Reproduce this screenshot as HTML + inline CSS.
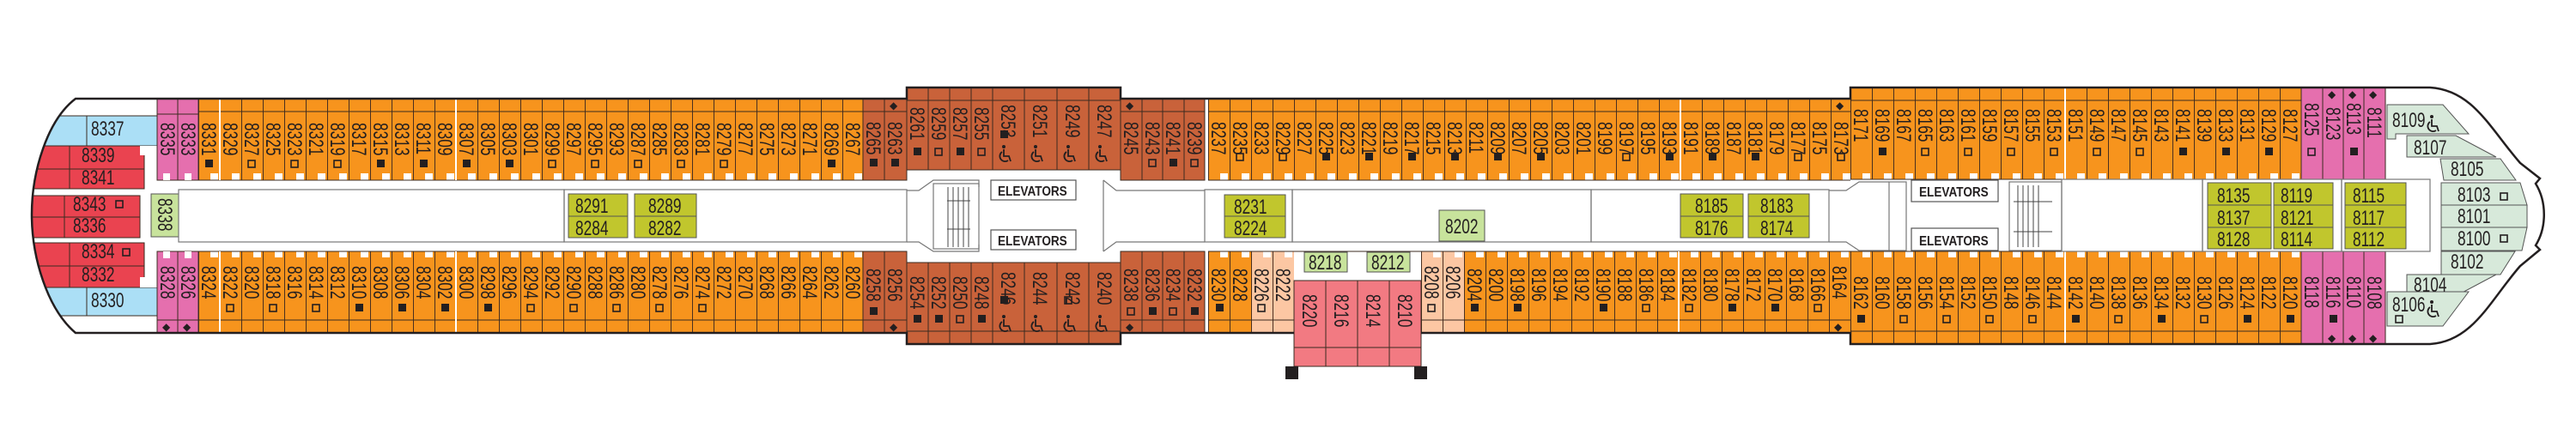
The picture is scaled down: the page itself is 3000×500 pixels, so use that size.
<!DOCTYPE html>
<html><head><meta charset="utf-8"><style>
html,body{margin:0;padding:0;background:#fff}
svg{display:block}
text{font-family:"Liberation Sans",sans-serif;fill:#231f20}
.v{font-size:24px}
.h{font-size:24px}
.e{font-size:16px;font-weight:bold}
.d{font-size:12px}
.f{fill:#231f20}
.o{fill:none;stroke:#231f20;stroke-width:1.6}
.c{stroke:#3b2b20;stroke-width:1}
.wc{fill:none;stroke:#231f20;stroke-width:1.8}
</style></head><body>
<svg width="3000" height="500" viewBox="0 0 3000 500" xmlns="http://www.w3.org/2000/svg">
<defs>
<pattern id="pA" x="231" y="0" width="25" height="500" patternUnits="userSpaceOnUse"><line x1=".5" y1="0" x2=".5" y2="500" stroke="#4a3020" stroke-width="1"/><rect x="14" y="202" width="9" height="8" fill="#fff"/><rect x="14" y="293" width="9" height="7" fill="#fff"/></pattern>
<pattern id="pB" x="1407" y="0" width="25" height="500" patternUnits="userSpaceOnUse"><line x1=".5" y1="0" x2=".5" y2="500" stroke="#4a3020" stroke-width="1"/><rect x="14" y="202" width="9" height="8" fill="#fff"/><rect x="14" y="293" width="9" height="7" fill="#fff"/></pattern>
<pattern id="pC" x="2155" y="0" width="25" height="500" patternUnits="userSpaceOnUse"><line x1=".5" y1="0" x2=".5" y2="500" stroke="#4a3020" stroke-width="1"/><rect x="14" y="202" width="9" height="8" fill="#fff"/><rect x="14" y="293" width="9" height="7" fill="#fff"/></pattern>
<clipPath id="hull"><path d="M88 115 L2830 102 L2830 401 L88 388 C55 360 37 300 37 250 C37 200 55 140 88 115 Z"/></clipPath>
<g id="wch"><circle cx="4" cy="-14" r="2" fill="#231f20"/><path d="M4 -11 L4 -3 L10 -3 L12 3 M2 -8 A6 6 0 1 0 9 2" class="wc"/></g>
</defs>

<!-- stern -->
<g clip-path="url(#hull)">
<rect x="20" y="135" width="163" height="35" fill="#abdff6"/>
<rect x="20" y="335" width="163" height="33" fill="#abdff6"/>
<rect x="20" y="170" width="148" height="50" fill="#ea4350"/>
<rect x="20" y="228" width="143" height="49" fill="#ea4350"/>
<rect x="20" y="283" width="148" height="52" fill="#ea4350"/>
<g fill="none" stroke="#3b2b20" stroke-width="1">
<rect x="20" y="135" width="163" height="35"/><rect x="20" y="335" width="163" height="33"/>
<rect x="20" y="170" width="148" height="27"/><rect x="20" y="197" width="148" height="23"/>
<rect x="20" y="228" width="143" height="25"/><rect x="20" y="253" width="143" height="24"/>
<rect x="20" y="283" width="148" height="27"/><rect x="20" y="310" width="148" height="25"/>
<line x1="101" y1="135" x2="101" y2="170"/><line x1="101" y1="335" x2="101" y2="368"/>
<line x1="81" y1="170" x2="81" y2="220"/><line x1="75" y1="228" x2="75" y2="277"/><line x1="81" y1="283" x2="81" y2="335"/>
</g>
</g>
<rect x="163" y="170" width="20" height="11" fill="#fff"/><rect x="163" y="323" width="20" height="12" fill="#fff"/>
<text class="h" transform="translate(106,158) scale(.72,1)">8337</text>
<text class="h" transform="translate(95,189) scale(.72,1)">8339</text>
<text class="h" transform="translate(95,215) scale(.72,1)">8341</text>
<text class="h" transform="translate(85,246) scale(.72,1)">8343</text>
<text class="h" transform="translate(85,271) scale(.72,1)">8336</text>
<text class="h" transform="translate(95,301) scale(.72,1)">8334</text>
<text class="h" transform="translate(95,328) scale(.72,1)">8332</text>
<text class="h" transform="translate(106,358) scale(.72,1)">8330</text>
<rect x="135" y="234" width="8" height="8" class="o"/><rect x="143" y="290" width="8" height="8" class="o"/>
<rect x="176" y="226" width="32" height="50" fill="#c8e39c" stroke="#555" stroke-width="1"/>
<text class="v" transform="translate(184,231) rotate(90) scale(.72,1)">8338</text>

<!-- pink stern -->
<rect x="183" y="115" width="48" height="95" fill="#e56fae" stroke="#3b2b20"/>
<rect x="183" y="293" width="48" height="95" fill="#e56fae" stroke="#3b2b20"/>
<g class="c"><line x1="207" y1="115" x2="207" y2="210"/><line x1="207" y1="293" x2="207" y2="388"/><line x1="183" y1="133" x2="231" y2="133"/><line x1="183" y1="373" x2="231" y2="373"/></g>
<rect x="190" y="202" width="8" height="8" fill="#fff"/><rect x="215" y="202" width="8" height="8" fill="#fff"/>
<rect x="190" y="293" width="8" height="8" fill="#fff"/><rect x="215" y="293" width="8" height="8" fill="#fff"/>
<text class="d" x="189" y="385">◆</text><text class="d" x="213" y="385">◆</text>
<text class="v" transform="translate(187,143) rotate(90) scale(.72,1)">8335</text>
<text class="v" transform="translate(211,143) rotate(90) scale(.72,1)">8333</text>
<text class="v" transform="translate(187,310) rotate(90) scale(.72,1)">8328</text>
<text class="v" transform="translate(211,310) rotate(90) scale(.72,1)">8326</text>

<!-- orange rows -->
<rect x="231" y="115" width="774" height="95" fill="#f7941d"/><rect x="231" y="115" width="774" height="95" fill="url(#pA)"/>
<rect x="231" y="293" width="774" height="95" fill="#f7941d"/><rect x="231" y="293" width="774" height="95" fill="url(#pA)"/>
<rect x="1407" y="115" width="748" height="95" fill="#f7941d"/><rect x="1407" y="115" width="748" height="95" fill="url(#pB)"/>
<rect x="1407" y="293" width="50" height="95" fill="#f7941d"/><rect x="1457" y="293" width="50" height="95" fill="#fcc7a3"/><rect x="1407" y="293" width="100" height="95" fill="url(#pB)"/>
<rect x="1655" y="293" width="50" height="95" fill="#fcc7a3"/><rect x="1705" y="293" width="450" height="95" fill="#f7941d"/><rect x="1655" y="293" width="500" height="95" fill="url(#pC)"/>
<rect x="2155" y="102" width="525" height="107" fill="#f7941d"/><rect x="2155" y="102" width="525" height="107" fill="url(#pC)"/>
<rect x="2155" y="293" width="525" height="108" fill="#f7941d"/><rect x="2155" y="293" width="525" height="108" fill="url(#pC)"/>
<g class="c"><line x1="231" y1="130" x2="1005" y2="130"/><line x1="231" y1="373" x2="1005" y2="373"/>
<line x1="1407" y1="130" x2="2155" y2="130"/><line x1="1407" y1="373" x2="1507" y2="373"/><line x1="1655" y1="373" x2="2155" y2="373"/>
<line x1="2155" y1="117" x2="2778" y2="117"/><line x1="2155" y1="386" x2="2778" y2="386"/>
<line x1="231" y1="210" x2="1005" y2="210"/><line x1="231" y1="293" x2="1005" y2="293"/>
<line x1="1407" y1="210" x2="2155" y2="210"/><line x1="2155" y1="209" x2="2680" y2="209"/>
<line x1="1407" y1="293" x2="2680" y2="293"/></g>
<g stroke="#fff" stroke-width="2"><line x1="256" y1="115" x2="256" y2="210"/><line x1="256" y1="293" x2="256" y2="388"/><line x1="531" y1="115" x2="531" y2="210"/><line x1="531" y1="293" x2="531" y2="388"/><line x1="1405" y1="110" x2="1405" y2="390"/><line x1="1957" y1="115" x2="1957" y2="210"/><line x1="1955" y1="293" x2="1955" y2="388"/><line x1="2405" y1="102" x2="2405" y2="209"/><line x1="2405" y1="293" x2="2405" y2="401"/></g>

<!-- brown -->
<g fill="#c9623a" stroke="#3b2b20" stroke-width="1">
<rect x="1005" y="115" width="51" height="95"/><rect x="1056" y="102" width="249" height="96"/><rect x="1305" y="115" width="98" height="95"/>
<rect x="1005" y="293" width="51" height="95"/><rect x="1056" y="306" width="249" height="95"/><rect x="1305" y="293" width="98" height="95"/>
</g>
<g class="c">
<line x1="1030" y1="115" x2="1030" y2="210"/><line x1="1081" y1="102" x2="1081" y2="198"/><line x1="1106" y1="102" x2="1106" y2="198"/><line x1="1131" y1="102" x2="1131" y2="198"/><line x1="1156" y1="102" x2="1156" y2="198"/><line x1="1193" y1="102" x2="1193" y2="198"/><line x1="1231" y1="102" x2="1231" y2="198"/><line x1="1268" y1="102" x2="1268" y2="198"/><line x1="1330" y1="115" x2="1330" y2="210"/><line x1="1354" y1="115" x2="1354" y2="210"/><line x1="1379" y1="115" x2="1379" y2="210"/>
<line x1="1030" y1="293" x2="1030" y2="388"/><line x1="1081" y1="306" x2="1081" y2="401"/><line x1="1106" y1="306" x2="1106" y2="401"/><line x1="1131" y1="306" x2="1131" y2="401"/><line x1="1156" y1="306" x2="1156" y2="401"/><line x1="1193" y1="306" x2="1193" y2="401"/><line x1="1231" y1="306" x2="1231" y2="401"/><line x1="1268" y1="306" x2="1268" y2="401"/><line x1="1330" y1="293" x2="1330" y2="388"/><line x1="1354" y1="293" x2="1354" y2="388"/><line x1="1379" y1="293" x2="1379" y2="388"/>
<line x1="1005" y1="130" x2="1056" y2="130"/><line x1="1056" y1="117" x2="1305" y2="117"/><line x1="1305" y1="130" x2="1403" y2="130"/>
<line x1="1005" y1="373" x2="1056" y2="373"/><line x1="1056" y1="386" x2="1305" y2="386"/><line x1="1305" y1="373" x2="1403" y2="373"/>
</g>
<text class="d" x="1036" y="127">◆</text><text class="d" x="1311" y="127">◆</text><text class="d" x="1036" y="385">◆</text><text class="d" x="1311" y="385">◆</text>

<!-- pink salmon block -->
<rect x="1507" y="327" width="148" height="100" fill="#f27a82" stroke="#3b2b20"/>
<g class="c"><line x1="1544" y1="327" x2="1544" y2="427"/><line x1="1581" y1="327" x2="1581" y2="427"/><line x1="1618" y1="327" x2="1618" y2="427"/><line x1="1507" y1="405" x2="1655" y2="405"/></g>
<rect x="1497" y="427" width="15" height="15" fill="#231f20"/><rect x="1647" y="427" width="15" height="15" fill="#231f20"/>
<rect x="1519" y="294" width="50" height="23" fill="#c8e39c" stroke="#555"/><rect x="1592" y="294" width="50" height="23" fill="#c8e39c" stroke="#555"/>
<text class="h" transform="translate(1524,314) scale(.72,1)">8218</text>
<text class="h" transform="translate(1597,314) scale(.72,1)">8212</text>
<text class="v" transform="translate(1517,343) rotate(90) scale(.72,1)">8220</text>
<text class="v" transform="translate(1554,343) rotate(90) scale(.72,1)">8216</text>
<text class="v" transform="translate(1591,343) rotate(90) scale(.72,1)">8214</text>
<text class="v" transform="translate(1628,343) rotate(90) scale(.72,1)">8210</text>

<!-- right pink -->
<rect x="2680" y="102" width="98" height="107" fill="#e56fae" stroke="#3b2b20"/>
<rect x="2680" y="293" width="98" height="108" fill="#e56fae" stroke="#3b2b20"/>
<g class="c"><line x1="2705" y1="102" x2="2705" y2="209"/><line x1="2729" y1="102" x2="2729" y2="209"/><line x1="2753" y1="102" x2="2753" y2="209"/><line x1="2705" y1="293" x2="2705" y2="401"/><line x1="2729" y1="293" x2="2729" y2="401"/><line x1="2753" y1="293" x2="2753" y2="401"/></g>
<text class="d" x="2711" y="114">◆</text><text class="d" x="2735" y="114">◆</text><text class="d" x="2759" y="114">◆</text>
<text class="d" x="2711" y="398">◆</text><text class="d" x="2735" y="398">◆</text><text class="d" x="2759" y="398">◆</text>
<text class="d" x="2138" y="127">◆</text><text class="d" x="2136" y="385">◆</text>

<!-- bow cabins -->
<g fill="#d7e9da" stroke="#555" stroke-width="1">
<polygon points="2780,122 2845,122 2875,156 2790,156 2790,162 2780,162"/>
<polygon points="2803,158 2860,158 2907,183 2803,183"/>
<polygon points="2842,185 2912,185 2930,210 2846,210"/>
<polygon points="2843,213 2935,213 2943,239 2843,239"/>
<polygon points="2843,239 2943,239 2943,265 2843,265"/>
<polygon points="2843,265 2943,265 2937,292 2843,292"/>
<polygon points="2843,293 2929,293 2912,320 2843,320"/>
<polygon points="2803,320 2907,320 2860,345 2803,345"/>
<polygon points="2780,340 2875,340 2845,380 2780,380"/>
</g>
<text class="h" transform="translate(2786,148) scale(.72,1)">8109</text>
<text class="h" transform="translate(2811,180) scale(.72,1)">8107</text>
<text class="h" transform="translate(2854,205) scale(.72,1)">8105</text>
<text class="h" transform="translate(2862,235) scale(.72,1)">8103</text>
<text class="h" transform="translate(2862,260) scale(.72,1)">8101</text>
<text class="h" transform="translate(2862,286) scale(.72,1)">8100</text>
<text class="h" transform="translate(2854,313) scale(.72,1)">8102</text>
<text class="h" transform="translate(2811,340) scale(.72,1)">8104</text>
<text class="h" transform="translate(2786,363) scale(.72,1)">8106</text>
<rect x="2912" y="225" width="8" height="8" class="o"/><rect x="2912" y="274" width="8" height="8" class="o"/><rect x="2790" y="368" width="8" height="8" class="o"/>
<use href="#wch" x="2828" y="150"/><use href="#wch" x="2828" y="366"/>

<!-- corridor structures -->
<g fill="none" stroke="#777" stroke-width="1.2">
<rect x="208" y="221" width="449" height="61"/>
<rect x="657" y="221" width="399" height="61"/>
<path d="M1056 222 L1070 222 L1087 210 L1140 210 L1140 218 M1056 282 L1070 282 L1087 293 L1140 293 L1140 285"/>
<rect x="1087" y="214" width="53" height="76"/>
<path d="M1285 210 L1300 222 L1403 222 M1285 293 L1300 282 L1403 282 M1285 210 L1285 293"/>
<rect x="1403" y="221" width="102" height="61"/>
<rect x="1505" y="221" width="348" height="61"/>
<rect x="1853" y="221" width="277" height="61"/>
<path d="M2130 222 L2150 222 L2165 212 L2200 212 M2130 282 L2150 282 L2165 292 L2200 292"/>
<rect x="2200" y="212" width="20" height="80"/>
<rect x="2340" y="212" width="61" height="80"/>
<rect x="2401" y="209" width="164" height="84"/>
<rect x="2565" y="209" width="162" height="84"/>
<rect x="2727" y="209" width="103" height="84"/>
</g>
<g stroke="#444" stroke-width="1"><line x1="1104" y1="218" x2="1104" y2="288"/><line x1="1110" y1="218" x2="1110" y2="288"/><line x1="1116" y1="218" x2="1116" y2="288"/><line x1="1122" y1="218" x2="1122" y2="288"/><line x1="1128" y1="218" x2="1128" y2="288"/><line x1="1103" y1="234" x2="1130" y2="234"/><line x1="1103" y1="267" x2="1130" y2="267"/>
<line x1="2350" y1="216" x2="2350" y2="288"/><line x1="2356" y1="216" x2="2356" y2="288"/><line x1="2362" y1="216" x2="2362" y2="288"/><line x1="2368" y1="216" x2="2368" y2="288"/><line x1="2374" y1="216" x2="2374" y2="288"/><line x1="2345" y1="235" x2="2390" y2="235"/><line x1="2345" y1="270" x2="2390" y2="270"/></g>
<g fill="#fff" stroke="#555" stroke-width="1.2">
<rect x="1154" y="210" width="99" height="23"/><rect x="1154" y="268" width="99" height="23"/>
<rect x="2226" y="210" width="101" height="25"/><rect x="2226" y="266" width="101" height="26"/>
</g>
<text class="e" transform="translate(1162,228) scale(.85,1)">ELEVATORS</text>
<text class="e" transform="translate(1162,286) scale(.85,1)">ELEVATORS</text>
<text class="e" transform="translate(2235,229) scale(.85,1)">ELEVATORS</text>
<text class="e" transform="translate(2235,286) scale(.85,1)">ELEVATORS</text>

<!-- interior cabins -->
<g fill="#c1c62d" stroke="#555" stroke-width="1">
<rect x="662" y="226" width="69" height="26"/><rect x="662" y="252" width="69" height="25"/><rect x="739" y="226" width="72" height="26"/><rect x="739" y="252" width="72" height="25"/>
<rect x="1426" y="227" width="71" height="25"/><rect x="1426" y="252" width="71" height="25"/>
<rect x="1957" y="226" width="73" height="26"/><rect x="1957" y="252" width="73" height="25"/><rect x="2036" y="226" width="71" height="26"/><rect x="2036" y="252" width="71" height="25"/>
<rect x="2571" y="213" width="74" height="26"/><rect x="2571" y="239" width="74" height="26"/><rect x="2571" y="265" width="74" height="25"/>
<rect x="2648" y="213" width="69" height="26"/><rect x="2648" y="239" width="69" height="26"/><rect x="2648" y="265" width="69" height="25"/>
<rect x="2731" y="213" width="71" height="26"/><rect x="2731" y="239" width="71" height="26"/><rect x="2731" y="265" width="71" height="25"/>
</g>
<rect x="1676" y="245" width="53" height="36" fill="#c8e39c" stroke="#555"/>
<text class="h" transform="translate(1683,272) scale(.72,1)">8202</text>
<text class="h" transform="translate(670,248) scale(.72,1)">8291</text>
<text class="h" transform="translate(670,274) scale(.72,1)">8284</text>
<text class="h" transform="translate(755,248) scale(.72,1)">8289</text>
<text class="h" transform="translate(755,274) scale(.72,1)">8282</text>
<text class="h" transform="translate(1437,249) scale(.72,1)">8231</text>
<text class="h" transform="translate(1437,274) scale(.72,1)">8224</text>
<text class="h" transform="translate(1974,248) scale(.72,1)">8185</text>
<text class="h" transform="translate(1974,274) scale(.72,1)">8176</text>
<text class="h" transform="translate(2050,248) scale(.72,1)">8183</text>
<text class="h" transform="translate(2050,274) scale(.72,1)">8174</text>
<text class="h" transform="translate(2582,236) scale(.72,1)">8135</text>
<text class="h" transform="translate(2582,262) scale(.72,1)">8137</text>
<text class="h" transform="translate(2582,287) scale(.72,1)">8128</text>
<text class="h" transform="translate(2656,236) scale(.72,1)">8119</text>
<text class="h" transform="translate(2656,262) scale(.72,1)">8121</text>
<text class="h" transform="translate(2656,287) scale(.72,1)">8114</text>
<text class="h" transform="translate(2740,236) scale(.72,1)">8115</text>
<text class="h" transform="translate(2740,262) scale(.72,1)">8117</text>
<text class="h" transform="translate(2740,287) scale(.72,1)">8112</text>

<g class="v">
<text transform="translate(235,143) rotate(90) scale(.72,1)">8331</text>
<text transform="translate(260,143) rotate(90) scale(.72,1)">8329</text>
<text transform="translate(285,143) rotate(90) scale(.72,1)">8327</text>
<text transform="translate(310,143) rotate(90) scale(.72,1)">8325</text>
<text transform="translate(335,143) rotate(90) scale(.72,1)">8323</text>
<text transform="translate(360,143) rotate(90) scale(.72,1)">8321</text>
<text transform="translate(385,143) rotate(90) scale(.72,1)">8319</text>
<text transform="translate(410,143) rotate(90) scale(.72,1)">8317</text>
<text transform="translate(435,143) rotate(90) scale(.72,1)">8315</text>
<text transform="translate(460,143) rotate(90) scale(.72,1)">8313</text>
<text transform="translate(485,143) rotate(90) scale(.72,1)">8311</text>
<text transform="translate(510,143) rotate(90) scale(.72,1)">8309</text>
<text transform="translate(535,143) rotate(90) scale(.72,1)">8307</text>
<text transform="translate(560,143) rotate(90) scale(.72,1)">8305</text>
<text transform="translate(585,143) rotate(90) scale(.72,1)">8303</text>
<text transform="translate(610,143) rotate(90) scale(.72,1)">8301</text>
<text transform="translate(635,143) rotate(90) scale(.72,1)">8299</text>
<text transform="translate(660,143) rotate(90) scale(.72,1)">8297</text>
<text transform="translate(685,143) rotate(90) scale(.72,1)">8295</text>
<text transform="translate(710,143) rotate(90) scale(.72,1)">8293</text>
<text transform="translate(735,143) rotate(90) scale(.72,1)">8287</text>
<text transform="translate(760,143) rotate(90) scale(.72,1)">8285</text>
<text transform="translate(785,143) rotate(90) scale(.72,1)">8283</text>
<text transform="translate(810,143) rotate(90) scale(.72,1)">8281</text>
<text transform="translate(835,143) rotate(90) scale(.72,1)">8279</text>
<text transform="translate(860,143) rotate(90) scale(.72,1)">8277</text>
<text transform="translate(885,143) rotate(90) scale(.72,1)">8275</text>
<text transform="translate(910,143) rotate(90) scale(.72,1)">8273</text>
<text transform="translate(935,143) rotate(90) scale(.72,1)">8271</text>
<text transform="translate(960,143) rotate(90) scale(.72,1)">8269</text>
<text transform="translate(985,143) rotate(90) scale(.72,1)">8267</text>
<text transform="translate(235,310) rotate(90) scale(.72,1)">8324</text>
<text transform="translate(260,310) rotate(90) scale(.72,1)">8322</text>
<text transform="translate(285,310) rotate(90) scale(.72,1)">8320</text>
<text transform="translate(310,310) rotate(90) scale(.72,1)">8318</text>
<text transform="translate(335,310) rotate(90) scale(.72,1)">8316</text>
<text transform="translate(360,310) rotate(90) scale(.72,1)">8314</text>
<text transform="translate(385,310) rotate(90) scale(.72,1)">8312</text>
<text transform="translate(410,310) rotate(90) scale(.72,1)">8310</text>
<text transform="translate(435,310) rotate(90) scale(.72,1)">8308</text>
<text transform="translate(460,310) rotate(90) scale(.72,1)">8306</text>
<text transform="translate(485,310) rotate(90) scale(.72,1)">8304</text>
<text transform="translate(510,310) rotate(90) scale(.72,1)">8302</text>
<text transform="translate(535,310) rotate(90) scale(.72,1)">8300</text>
<text transform="translate(560,310) rotate(90) scale(.72,1)">8298</text>
<text transform="translate(585,310) rotate(90) scale(.72,1)">8296</text>
<text transform="translate(610,310) rotate(90) scale(.72,1)">8294</text>
<text transform="translate(635,310) rotate(90) scale(.72,1)">8292</text>
<text transform="translate(660,310) rotate(90) scale(.72,1)">8290</text>
<text transform="translate(685,310) rotate(90) scale(.72,1)">8288</text>
<text transform="translate(710,310) rotate(90) scale(.72,1)">8286</text>
<text transform="translate(735,310) rotate(90) scale(.72,1)">8280</text>
<text transform="translate(760,310) rotate(90) scale(.72,1)">8278</text>
<text transform="translate(785,310) rotate(90) scale(.72,1)">8276</text>
<text transform="translate(810,310) rotate(90) scale(.72,1)">8274</text>
<text transform="translate(835,310) rotate(90) scale(.72,1)">8272</text>
<text transform="translate(860,310) rotate(90) scale(.72,1)">8270</text>
<text transform="translate(885,310) rotate(90) scale(.72,1)">8268</text>
<text transform="translate(910,310) rotate(90) scale(.72,1)">8266</text>
<text transform="translate(935,310) rotate(90) scale(.72,1)">8264</text>
<text transform="translate(960,310) rotate(90) scale(.72,1)">8262</text>
<text transform="translate(985,310) rotate(90) scale(.72,1)">8260</text>
<text transform="translate(1009,142) rotate(90) scale(.72,1)">8265</text>
<text transform="translate(1034,142) rotate(90) scale(.72,1)">8263</text>
<text transform="translate(1060,125) rotate(90) scale(.72,1)">8261</text>
<text transform="translate(1085,125) rotate(90) scale(.72,1)">8259</text>
<text transform="translate(1110,125) rotate(90) scale(.72,1)">8257</text>
<text transform="translate(1135,125) rotate(90) scale(.72,1)">8255</text>
<text transform="translate(1166,122) rotate(90) scale(.72,1)">8253</text>
<text transform="translate(1203,122) rotate(90) scale(.72,1)">8251</text>
<text transform="translate(1241,122) rotate(90) scale(.72,1)">8249</text>
<text transform="translate(1278,122) rotate(90) scale(.72,1)">8247</text>
<text transform="translate(1309,142) rotate(90) scale(.72,1)">8245</text>
<text transform="translate(1334,142) rotate(90) scale(.72,1)">8243</text>
<text transform="translate(1358,142) rotate(90) scale(.72,1)">8241</text>
<text transform="translate(1383,142) rotate(90) scale(.72,1)">8239</text>
<text transform="translate(1009,313) rotate(90) scale(.72,1)">8258</text>
<text transform="translate(1034,313) rotate(90) scale(.72,1)">8256</text>
<text transform="translate(1060,322) rotate(90) scale(.72,1)">8254</text>
<text transform="translate(1085,322) rotate(90) scale(.72,1)">8252</text>
<text transform="translate(1110,322) rotate(90) scale(.72,1)">8250</text>
<text transform="translate(1135,322) rotate(90) scale(.72,1)">8248</text>
<text transform="translate(1166,317) rotate(90) scale(.72,1)">8246</text>
<text transform="translate(1203,317) rotate(90) scale(.72,1)">8244</text>
<text transform="translate(1241,317) rotate(90) scale(.72,1)">8242</text>
<text transform="translate(1278,317) rotate(90) scale(.72,1)">8240</text>
<text transform="translate(1309,313) rotate(90) scale(.72,1)">8238</text>
<text transform="translate(1334,313) rotate(90) scale(.72,1)">8236</text>
<text transform="translate(1358,313) rotate(90) scale(.72,1)">8234</text>
<text transform="translate(1383,313) rotate(90) scale(.72,1)">8232</text>
<text transform="translate(1411,142) rotate(90) scale(.72,1)">8237</text>
<text transform="translate(1436,142) rotate(90) scale(.72,1)">8235</text>
<text transform="translate(1461,142) rotate(90) scale(.72,1)">8233</text>
<text transform="translate(1486,142) rotate(90) scale(.72,1)">8229</text>
<text transform="translate(1511,142) rotate(90) scale(.72,1)">8227</text>
<text transform="translate(1536,142) rotate(90) scale(.72,1)">8225</text>
<text transform="translate(1561,142) rotate(90) scale(.72,1)">8223</text>
<text transform="translate(1586,142) rotate(90) scale(.72,1)">8221</text>
<text transform="translate(1611,142) rotate(90) scale(.72,1)">8219</text>
<text transform="translate(1636,142) rotate(90) scale(.72,1)">8217</text>
<text transform="translate(1661,142) rotate(90) scale(.72,1)">8215</text>
<text transform="translate(1686,142) rotate(90) scale(.72,1)">8213</text>
<text transform="translate(1711,142) rotate(90) scale(.72,1)">8211</text>
<text transform="translate(1736,142) rotate(90) scale(.72,1)">8209</text>
<text transform="translate(1761,142) rotate(90) scale(.72,1)">8207</text>
<text transform="translate(1786,142) rotate(90) scale(.72,1)">8205</text>
<text transform="translate(1811,142) rotate(90) scale(.72,1)">8203</text>
<text transform="translate(1836,142) rotate(90) scale(.72,1)">8201</text>
<text transform="translate(1861,142) rotate(90) scale(.72,1)">8199</text>
<text transform="translate(1886,142) rotate(90) scale(.72,1)">8197</text>
<text transform="translate(1911,142) rotate(90) scale(.72,1)">8195</text>
<text transform="translate(1936,142) rotate(90) scale(.72,1)">8193</text>
<text transform="translate(1961,142) rotate(90) scale(.72,1)">8191</text>
<text transform="translate(1986,142) rotate(90) scale(.72,1)">8189</text>
<text transform="translate(2011,142) rotate(90) scale(.72,1)">8187</text>
<text transform="translate(2036,142) rotate(90) scale(.72,1)">8181</text>
<text transform="translate(2061,142) rotate(90) scale(.72,1)">8179</text>
<text transform="translate(2086,142) rotate(90) scale(.72,1)">8177</text>
<text transform="translate(2111,142) rotate(90) scale(.72,1)">8175</text>
<text transform="translate(2136,142) rotate(90) scale(.72,1)">8173</text>
<text transform="translate(1411,313) rotate(90) scale(.72,1)">8230</text>
<text transform="translate(1436,313) rotate(90) scale(.72,1)">8228</text>
<text transform="translate(1461,313) rotate(90) scale(.72,1)">8226</text>
<text transform="translate(1486,313) rotate(90) scale(.72,1)">8222</text>
<text transform="translate(1659,310) rotate(90) scale(.72,1)">8208</text>
<text transform="translate(1684,310) rotate(90) scale(.72,1)">8206</text>
<text transform="translate(1709,313) rotate(90) scale(.72,1)">8204</text>
<text transform="translate(1734,313) rotate(90) scale(.72,1)">8200</text>
<text transform="translate(1759,313) rotate(90) scale(.72,1)">8198</text>
<text transform="translate(1784,313) rotate(90) scale(.72,1)">8196</text>
<text transform="translate(1809,313) rotate(90) scale(.72,1)">8194</text>
<text transform="translate(1834,313) rotate(90) scale(.72,1)">8192</text>
<text transform="translate(1859,313) rotate(90) scale(.72,1)">8190</text>
<text transform="translate(1884,313) rotate(90) scale(.72,1)">8188</text>
<text transform="translate(1909,313) rotate(90) scale(.72,1)">8186</text>
<text transform="translate(1934,313) rotate(90) scale(.72,1)">8184</text>
<text transform="translate(1959,313) rotate(90) scale(.72,1)">8182</text>
<text transform="translate(1984,313) rotate(90) scale(.72,1)">8180</text>
<text transform="translate(2009,313) rotate(90) scale(.72,1)">8178</text>
<text transform="translate(2034,313) rotate(90) scale(.72,1)">8172</text>
<text transform="translate(2059,313) rotate(90) scale(.72,1)">8170</text>
<text transform="translate(2084,313) rotate(90) scale(.72,1)">8168</text>
<text transform="translate(2109,313) rotate(90) scale(.72,1)">8166</text>
<text transform="translate(2134,310) rotate(90) scale(.72,1)">8164</text>
<text transform="translate(2159,127) rotate(90) scale(.72,1)">8171</text>
<text transform="translate(2184,127) rotate(90) scale(.72,1)">8169</text>
<text transform="translate(2209,127) rotate(90) scale(.72,1)">8167</text>
<text transform="translate(2234,127) rotate(90) scale(.72,1)">8165</text>
<text transform="translate(2259,127) rotate(90) scale(.72,1)">8163</text>
<text transform="translate(2284,127) rotate(90) scale(.72,1)">8161</text>
<text transform="translate(2309,127) rotate(90) scale(.72,1)">8159</text>
<text transform="translate(2334,127) rotate(90) scale(.72,1)">8157</text>
<text transform="translate(2359,127) rotate(90) scale(.72,1)">8155</text>
<text transform="translate(2384,127) rotate(90) scale(.72,1)">8153</text>
<text transform="translate(2409,127) rotate(90) scale(.72,1)">8151</text>
<text transform="translate(2434,127) rotate(90) scale(.72,1)">8149</text>
<text transform="translate(2459,127) rotate(90) scale(.72,1)">8147</text>
<text transform="translate(2484,127) rotate(90) scale(.72,1)">8145</text>
<text transform="translate(2509,127) rotate(90) scale(.72,1)">8143</text>
<text transform="translate(2534,127) rotate(90) scale(.72,1)">8141</text>
<text transform="translate(2559,127) rotate(90) scale(.72,1)">8139</text>
<text transform="translate(2584,127) rotate(90) scale(.72,1)">8133</text>
<text transform="translate(2609,127) rotate(90) scale(.72,1)">8131</text>
<text transform="translate(2634,127) rotate(90) scale(.72,1)">8129</text>
<text transform="translate(2659,127) rotate(90) scale(.72,1)">8127</text>
<text transform="translate(2684,120) rotate(90) scale(.72,1)">8125</text>
<text transform="translate(2709,125) rotate(90) scale(.72,1)">8123</text>
<text transform="translate(2733,120) rotate(90) scale(.72,1)">8113</text>
<text transform="translate(2757,125) rotate(90) scale(.72,1)">8111</text>
<text transform="translate(2159,322) rotate(90) scale(.72,1)">8162</text>
<text transform="translate(2184,322) rotate(90) scale(.72,1)">8160</text>
<text transform="translate(2209,322) rotate(90) scale(.72,1)">8158</text>
<text transform="translate(2234,322) rotate(90) scale(.72,1)">8156</text>
<text transform="translate(2259,322) rotate(90) scale(.72,1)">8154</text>
<text transform="translate(2284,322) rotate(90) scale(.72,1)">8152</text>
<text transform="translate(2309,322) rotate(90) scale(.72,1)">8150</text>
<text transform="translate(2334,322) rotate(90) scale(.72,1)">8148</text>
<text transform="translate(2359,322) rotate(90) scale(.72,1)">8146</text>
<text transform="translate(2384,322) rotate(90) scale(.72,1)">8144</text>
<text transform="translate(2409,322) rotate(90) scale(.72,1)">8142</text>
<text transform="translate(2434,322) rotate(90) scale(.72,1)">8140</text>
<text transform="translate(2459,322) rotate(90) scale(.72,1)">8138</text>
<text transform="translate(2484,322) rotate(90) scale(.72,1)">8136</text>
<text transform="translate(2509,322) rotate(90) scale(.72,1)">8134</text>
<text transform="translate(2534,322) rotate(90) scale(.72,1)">8132</text>
<text transform="translate(2559,322) rotate(90) scale(.72,1)">8130</text>
<text transform="translate(2584,322) rotate(90) scale(.72,1)">8126</text>
<text transform="translate(2609,322) rotate(90) scale(.72,1)">8124</text>
<text transform="translate(2634,322) rotate(90) scale(.72,1)">8122</text>
<text transform="translate(2659,322) rotate(90) scale(.72,1)">8120</text>
<text transform="translate(2684,322) rotate(90) scale(.72,1)">8118</text>
<text transform="translate(2709,322) rotate(90) scale(.72,1)">8116</text>
<text transform="translate(2733,322) rotate(90) scale(.72,1)">8110</text>
<text transform="translate(2757,322) rotate(90) scale(.72,1)">8108</text>
</g>

<g class="f">
<rect x="239" y="186" width="9" height="9"/><rect x="439" y="186" width="9" height="9"/><rect x="489" y="186" width="9" height="9"/><rect x="539" y="186" width="9" height="9"/><rect x="589" y="186" width="9" height="9"/><rect x="964" y="186" width="9" height="9"/>
<rect x="414" y="354" width="9" height="9"/><rect x="464" y="354" width="9" height="9"/><rect x="514" y="354" width="9" height="9"/><rect x="564" y="354" width="9" height="9"/>
<rect x="1540" y="178" width="9" height="9"/><rect x="1590" y="178" width="9" height="9"/><rect x="1640" y="178" width="9" height="9"/><rect x="1690" y="178" width="9" height="9"/><rect x="1740" y="178" width="9" height="9"/><rect x="1790" y="178" width="9" height="9"/><rect x="1940" y="178" width="9" height="9"/><rect x="1990" y="178" width="9" height="9"/><rect x="2040" y="178" width="9" height="9"/>
<rect x="1416" y="354" width="9" height="9"/><rect x="1713" y="354" width="9" height="9"/><rect x="1763" y="354" width="9" height="9"/><rect x="1863" y="354" width="9" height="9"/><rect x="2013" y="354" width="9" height="9"/><rect x="2063" y="354" width="9" height="9"/>
<rect x="1013" y="185" width="9" height="9"/><rect x="1038" y="185" width="9" height="9"/><rect x="1064" y="172" width="9" height="9"/><rect x="1114" y="172" width="9" height="9"/><rect x="1165" y="152" width="9" height="9"/><rect x="1362" y="185" width="9" height="9"/>
<rect x="1013" y="358" width="9" height="9"/><rect x="1064" y="367" width="9" height="9"/><rect x="1089" y="367" width="9" height="9"/><rect x="1139" y="367" width="9" height="9"/><rect x="1165" y="345" width="9" height="9"/><rect x="1338" y="358" width="9" height="9"/><rect x="1387" y="358" width="9" height="9"/>
<rect x="2188" y="172" width="9" height="9"/><rect x="2538" y="172" width="9" height="9"/><rect x="2588" y="172" width="9" height="9"/><rect x="2638" y="172" width="9" height="9"/><rect x="2737" y="172" width="9" height="9"/>
<rect x="2163" y="367" width="9" height="9"/><rect x="2413" y="367" width="9" height="9"/><rect x="2513" y="367" width="9" height="9"/><rect x="2613" y="367" width="9" height="9"/><rect x="2663" y="367" width="9" height="9"/><rect x="2713" y="367" width="9" height="9"/>
</g>
<g class="o">
<rect x="289" y="187" width="8" height="8"/><rect x="339" y="187" width="8" height="8"/><rect x="389" y="187" width="8" height="8"/><rect x="639" y="187" width="8" height="8"/><rect x="689" y="187" width="8" height="8"/><rect x="739" y="187" width="8" height="8"/><rect x="789" y="187" width="8" height="8"/><rect x="839" y="187" width="8" height="8"/>
<rect x="264" y="355" width="8" height="8"/><rect x="314" y="355" width="8" height="8"/><rect x="364" y="355" width="8" height="8"/><rect x="614" y="355" width="8" height="8"/><rect x="664" y="355" width="8" height="8"/><rect x="714" y="355" width="8" height="8"/><rect x="764" y="355" width="8" height="8"/><rect x="814" y="355" width="8" height="8"/>
<rect x="1440" y="179" width="8" height="8"/><rect x="1490" y="179" width="8" height="8"/><rect x="1890" y="179" width="8" height="8"/><rect x="2090" y="179" width="8" height="8"/><rect x="2140" y="179" width="8" height="8"/>
<rect x="1465" y="355" width="8" height="8"/><rect x="1663" y="355" width="8" height="8"/><rect x="1913" y="355" width="8" height="8"/><rect x="1963" y="355" width="8" height="8"/><rect x="2113" y="355" width="8" height="8"/>
<rect x="1089" y="173" width="8" height="8"/><rect x="1139" y="173" width="8" height="8"/><rect x="1338" y="186" width="8" height="8"/><rect x="1387" y="186" width="8" height="8"/>
<rect x="1114" y="368" width="8" height="8"/><rect x="1240" y="346" width="8" height="8"/><rect x="1313" y="359" width="8" height="8"/><rect x="1362" y="359" width="8" height="8"/>
<rect x="2238" y="173" width="8" height="8"/><rect x="2288" y="173" width="8" height="8"/><rect x="2338" y="173" width="8" height="8"/><rect x="2388" y="173" width="8" height="8"/><rect x="2438" y="173" width="8" height="8"/><rect x="2488" y="173" width="8" height="8"/><rect x="2688" y="173" width="8" height="8"/>
<rect x="2213" y="368" width="8" height="8"/><rect x="2263" y="368" width="8" height="8"/><rect x="2313" y="368" width="8" height="8"/><rect x="2363" y="368" width="8" height="8"/><rect x="2463" y="368" width="8" height="8"/><rect x="2563" y="368" width="8" height="8"/>
</g>
<use href="#wch" x="1165" y="185"/><use href="#wch" x="1202" y="185"/><use href="#wch" x="1240" y="185"/><use href="#wch" x="1277" y="185"/>
<use href="#wch" x="1165" y="383"/><use href="#wch" x="1202" y="383"/><use href="#wch" x="1240" y="383"/><use href="#wch" x="1277" y="383"/>

<!-- hull outline -->
<path d="M1655 388 L2155 388 L2155 401 L2830 401 C2880 398 2900 350 2935 310 L2958 291 L2953 286 C2966 265 2966 235 2953 214 L2958 208 L2935 190 C2900 150 2880 105 2830 102 L2155 102 L2155 115 L1305 115 L1305 102 L1056 102 L1056 115 L88 115 C55 140 37 200 37 250 C37 300 55 360 88 388 L1056 388 L1056 401 L1305 401 L1305 388 L1507 388" fill="none" stroke="#231f20" stroke-width="2.5"/>
</svg>
</body></html>
